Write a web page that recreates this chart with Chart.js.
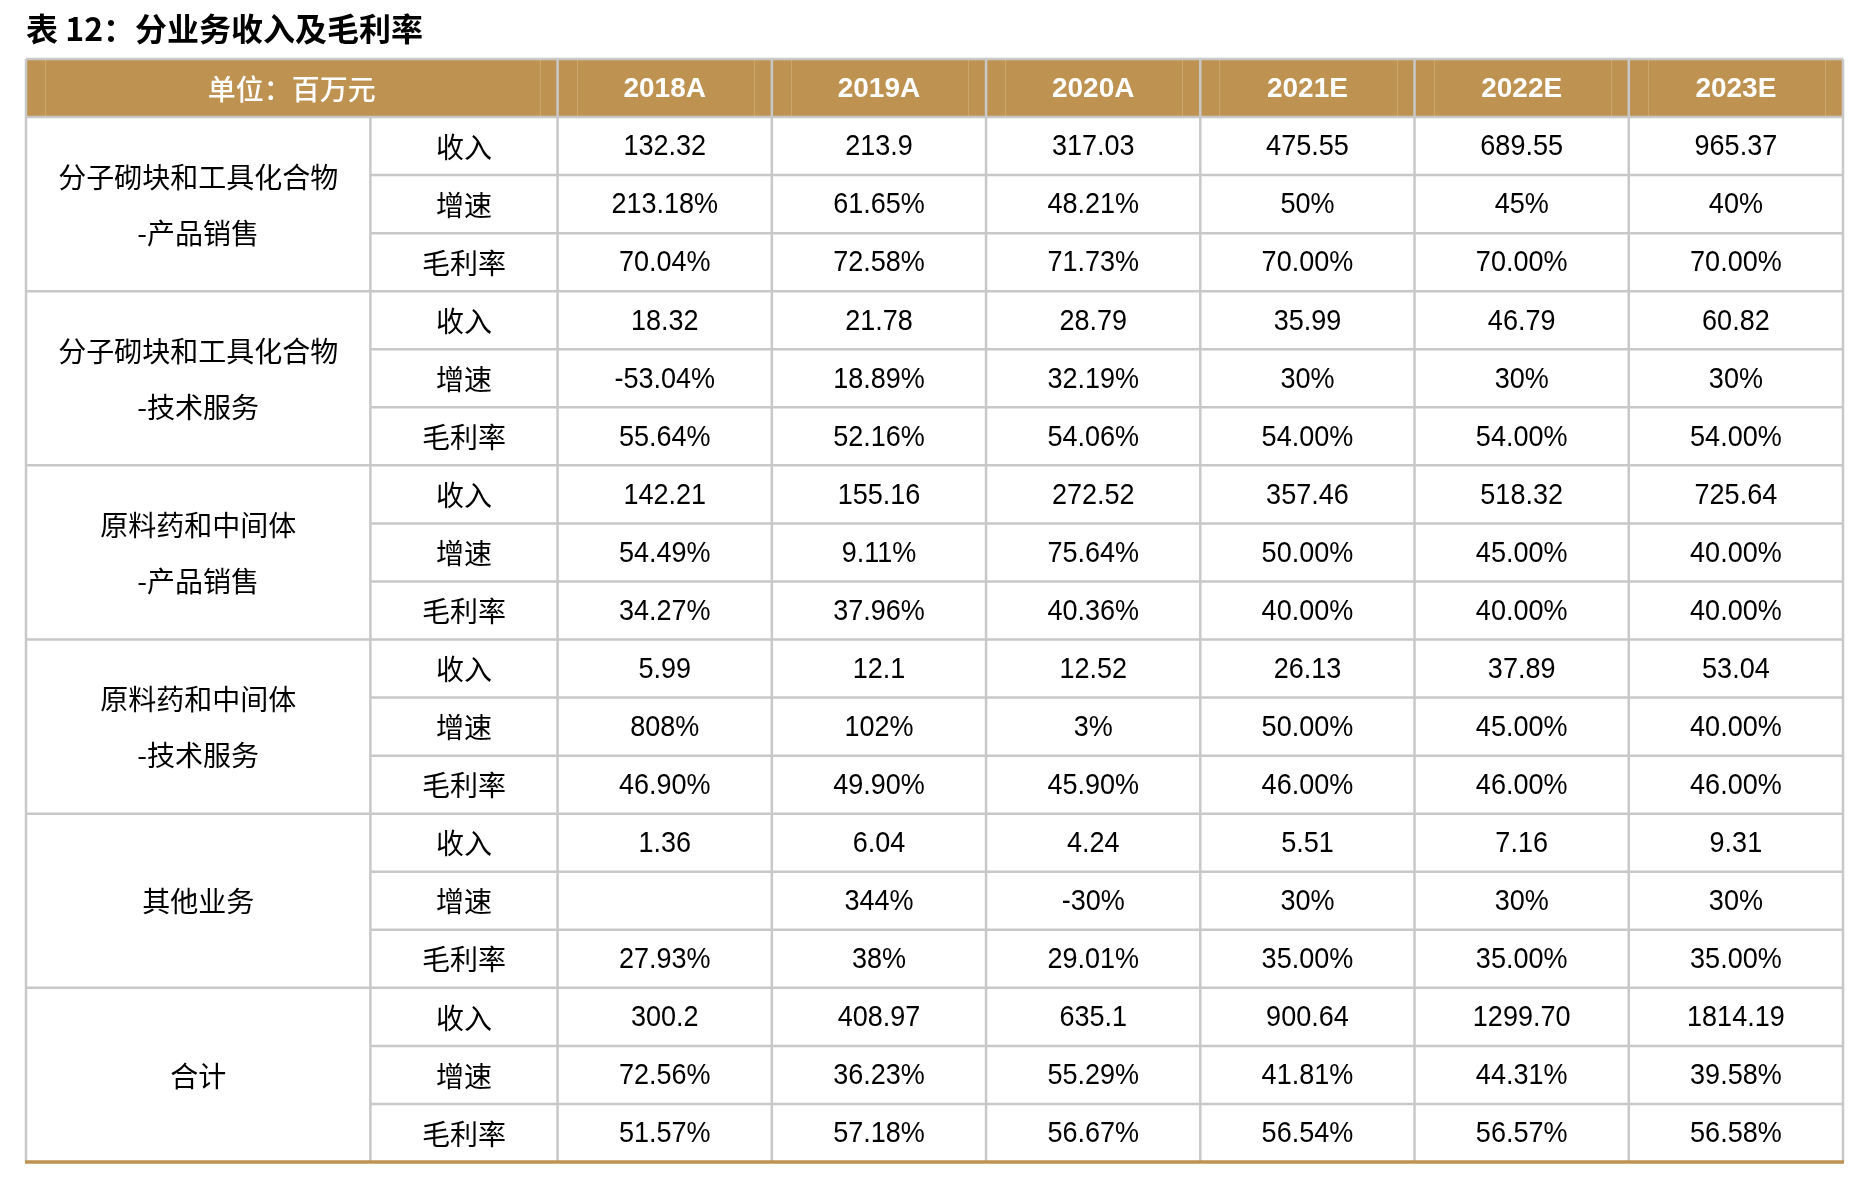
<!DOCTYPE html>
<html>
<head>
<meta charset="utf-8">
<script src="https://cdn.jsdelivr.net/npm/chart.js@4.4.0/dist/chart.umd.min.js"></script>
<style>
    html, body { margin: 0; padding: 0; background: #fff; }
    #wrap { width: 1856px; height: 1178px; }
</style>
</head>
<body>
<div id="wrap"><canvas id="tableChart"></canvas></div>
<script>
// ---- data ----
var tableTitle = '表 12：分业务收入及毛利率';
var unitLabel = '单位：百万元';
var years = ['2018A', '2019A', '2020A', '2021E', '2022E', '2023E'];
var segments = [
    ['分子砌块和工具化合物', '-产品销售'],
    ['分子砌块和工具化合物', '-技术服务'],
    ['原料药和中间体', '-产品销售'],
    ['原料药和中间体', '-技术服务'],
    ['其他业务'],
    ['合计']
];
var metrics = ['收入', '增速', '毛利率'];

var blockProductRevenue = ['132.32', '213.9', '317.03', '475.55', '689.55', '965.37'];
var blockProductGrowth = ['213.18%', '61.65%', '48.21%', '50%', '45%', '40%'];
var blockProductMargin = ['70.04%', '72.58%', '71.73%', '70.00%', '70.00%', '70.00%'];
var blockServiceRevenue = ['18.32', '21.78', '28.79', '35.99', '46.79', '60.82'];
var blockServiceGrowth = ['-53.04%', '18.89%', '32.19%', '30%', '30%', '30%'];
var blockServiceMargin = ['55.64%', '52.16%', '54.06%', '54.00%', '54.00%', '54.00%'];
var apiProductRevenue = ['142.21', '155.16', '272.52', '357.46', '518.32', '725.64'];
var apiProductGrowth = ['54.49%', '9.11%', '75.64%', '50.00%', '45.00%', '40.00%'];
var apiProductMargin = ['34.27%', '37.96%', '40.36%', '40.00%', '40.00%', '40.00%'];
var apiServiceRevenue = ['5.99', '12.1', '12.52', '26.13', '37.89', '53.04'];
var apiServiceGrowth = ['808%', '102%', '3%', '50.00%', '45.00%', '40.00%'];
var apiServiceMargin = ['46.90%', '49.90%', '45.90%', '46.00%', '46.00%', '46.00%'];
var otherRevenue = ['1.36', '6.04', '4.24', '5.51', '7.16', '9.31'];
var otherGrowth = ['', '344%', '-30%', '30%', '30%', '30%'];
var otherMargin = ['27.93%', '38%', '29.01%', '35.00%', '35.00%', '35.00%'];
var totalRevenue = ['300.2', '408.97', '635.1', '900.64', '1299.70', '1814.19'];
var totalGrowth = ['72.56%', '36.23%', '55.29%', '41.81%', '44.31%', '39.58%'];
var totalMargin = ['51.57%', '57.18%', '56.67%', '56.54%', '56.57%', '56.58%'];

var tableRows = [
    blockProductRevenue, blockProductGrowth, blockProductMargin,
    blockServiceRevenue, blockServiceGrowth, blockServiceMargin,
    apiProductRevenue, apiProductGrowth, apiProductMargin,
    apiServiceRevenue, apiServiceGrowth, apiServiceMargin,
    otherRevenue, otherGrowth, otherMargin,
    totalRevenue, totalGrowth, totalMargin
];

// ---- layout / style ----
var colWidths = [344, 187, 214, 214, 214, 214, 214, 214];
var colEdges = [0];
for (var i = 0; i < colWidths.length; i++) colEdges.push(colEdges[i] + colWidths[i]);
var rowCount = tableRows.length + 1;   // header + body rows

var gHeaderColor = '#BE9352';
var gHeaderInner = '#CDA66C';
var gGridColor = '#C8C8C8';
var gNumFont = '"Liberation Sans", Arial, sans-serif';
var gCjkFont = '"Noto Sans CJK SC", sans-serif';

function colCenter(c) { return (colEdges[c] + colEdges[c + 1]) / 2; }

// every cell becomes a point, positioned by the scales
var vCells = [];
vCells.push({ x: (colEdges[0] + colEdges[2]) / 2, y: 0.5, lines: [unitLabel], kind: 'unit' });
years.forEach(function (yr, c) {
    vCells.push({ x: colCenter(c + 2), y: 0.5, lines: [yr], kind: 'year' });
});
segments.forEach(function (seg, g) {
    vCells.push({ x: colCenter(0), y: 1 + g * 3 + 1.5, lines: seg, kind: 'segment' });
    metrics.forEach(function (m, k) {
        vCells.push({ x: colCenter(1), y: 1 + g * 3 + k + 0.5, lines: [m], kind: 'metric' });
    });
});
tableRows.forEach(function (row, r) {
    row.forEach(function (val, c) {
        vCells.push({ x: colCenter(c + 2), y: 1 + r + 0.5, lines: [val], kind: 'value' });
    });
});

var tablePlugin = {
    id: 'tableGrid',
    beforeDatasetsDraw: function (chart) {
        var ctx = chart.ctx, sx = chart.scales.x, sy = chart.scales.y;
        var px = function (v) { return sx.getPixelForValue(v); };
        var py = function (v) { return sy.getPixelForValue(v); };
        var left = px(0), right = px(colEdges[colEdges.length - 1]);
        var top = py(0), headBottom = py(1), bottom = py(rowCount);
        ctx.save();
        // header fill
        ctx.fillStyle = gHeaderColor;
        ctx.fillRect(left, top, right - left, headBottom - top);
        // faint inner lines of header cells
        ctx.strokeStyle = gHeaderInner;
        ctx.lineWidth = 1;
        var headSpans = [[0, 2], [2, 3], [3, 4], [4, 5], [5, 6], [6, 7], [7, 8]];
        headSpans.forEach(function (s) {
            [px(colEdges[s[0]]) + 19, px(colEdges[s[1]]) - 18].forEach(function (xx) {
                ctx.beginPath();
                ctx.moveTo(Math.round(xx) + 0.5, top);
                ctx.lineTo(Math.round(xx) + 0.5, headBottom);
                ctx.stroke();
            });
        });
        // grid lines
        ctx.strokeStyle = gGridColor;
        ctx.lineWidth = 2.5;
        function line(x0, y0, x1, y1) {
            ctx.beginPath(); ctx.moveTo(x0, y0); ctx.lineTo(x1, y1); ctx.stroke();
        }
        line(left, top, right, top);
        line(left, headBottom, right, headBottom);
        for (var r = 2; r < rowCount; r++) {
            var isGroup = (r - 1) % 3 === 0;
            line(isGroup ? left : px(colEdges[1]), py(r), right, py(r));
        }
        line(left, top, left, bottom);
        line(px(colEdges[1]), headBottom, px(colEdges[1]), bottom);
        for (var c = 2; c < colEdges.length; c++) {
            line(px(colEdges[c]), top, px(colEdges[c]), bottom);
        }
        // bottom gold rule
        ctx.strokeStyle = gHeaderColor;
        ctx.lineWidth = 3.5;
        line(left - 1, bottom, right + 1, bottom);
        ctx.restore();
    },
    afterDatasetsDraw: function (chart) {
        var ctx = chart.ctx;
        var meta = chart.getDatasetMeta(0);
        ctx.save();
        ctx.textAlign = 'center';
        ctx.textBaseline = 'middle';
        meta.data.forEach(function (pt, idx) {
            var cell = vCells[idx];
            var squeeze = 1;
            if (cell.kind === 'year') {
                ctx.fillStyle = '#fff';
                ctx.font = 'bold 28px ' + gNumFont;
            } else if (cell.kind === 'unit') {
                ctx.fillStyle = '#fff';
                ctx.font = '500 28px ' + gCjkFont;
            } else if (cell.kind === 'value') {
                // the source uses a narrow sans for the numbers
                ctx.fillStyle = '#000';
                ctx.font = '30px ' + gNumFont;
                squeeze = 0.9;
            } else {
                ctx.fillStyle = '#000';
                ctx.font = '28px ' + gCjkFont;
            }
            var n = cell.lines.length, gap = 56;
            cell.lines.forEach(function (t, k) {
                ctx.save();
                ctx.translate(pt.x, pt.y + (k - (n - 1) / 2) * gap + 1);
                ctx.scale(squeeze, 1);
                ctx.fillText(t, 0, 0);
                ctx.restore();
            });
        });
        ctx.restore();
    }
};

new Chart(document.getElementById('tableChart').getContext('2d'), {
    type: 'scatter',
    data: {
        datasets: [{
            data: vCells.map(function (c) { return { x: c.x, y: c.y }; }),
            pointRadius: 0,
            pointHoverRadius: 0
        }]
    },
    options: {
        responsive: true,
        maintainAspectRatio: false,
        animation: false,
        events: [],
        devicePixelRatio: 1,
        layout: { padding: { left: 26, right: 13, top: 0, bottom: 16 } },
        scales: {
            x: { type: 'linear', min: 0, max: colEdges[colEdges.length - 1], display: false },
            y: { type: 'linear', min: 0, max: rowCount, reverse: true, display: false }
        },
        plugins: {
            legend: { display: false },
            tooltip: { enabled: false },
            title: {
                display: true,
                text: tableTitle,
                align: 'start',
                color: '#000',
                font: { family: '"Noto Sans CJK SC", sans-serif', size: 32, weight: 'bold', lineHeight: 1.2 },
                padding: { top: 10, bottom: 10.6 }
            }
        }
    },
    plugins: [tablePlugin]
});
</script>
</body>
</html>
